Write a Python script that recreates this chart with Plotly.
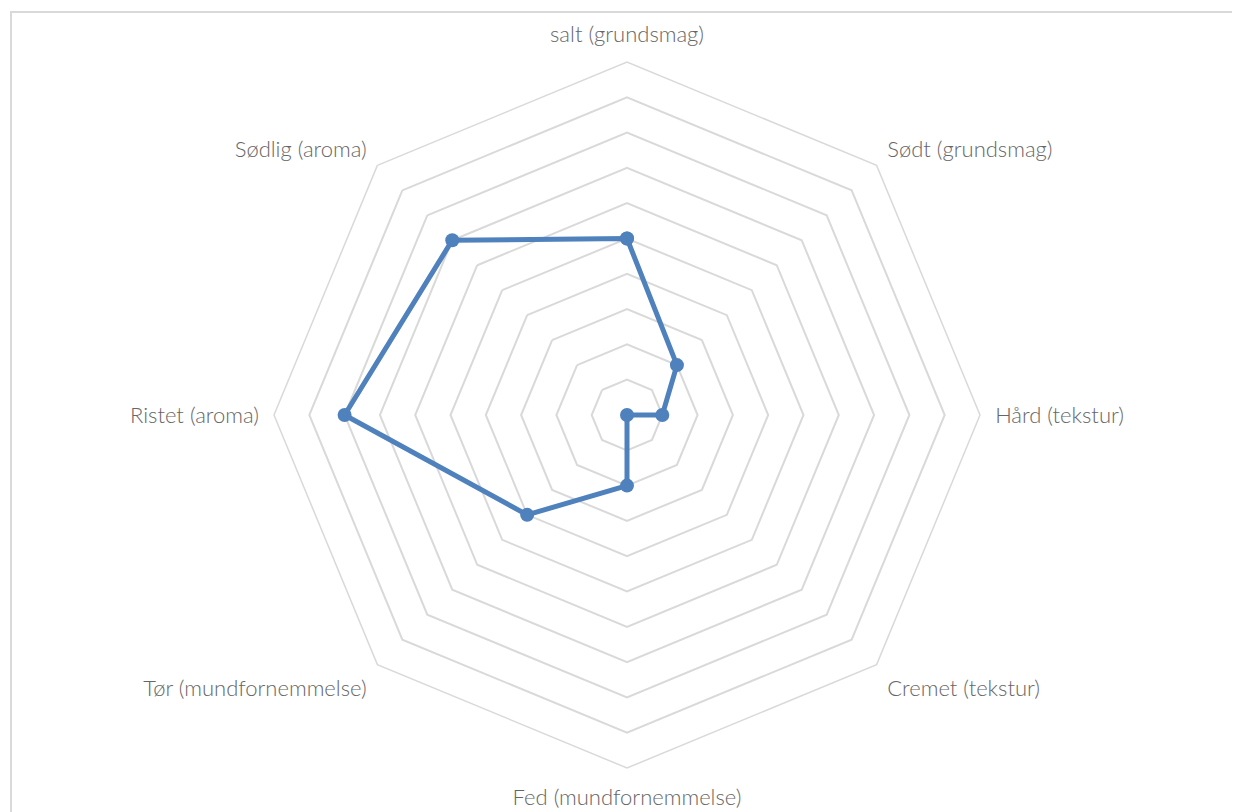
import plotly.graph_objects as go

categories = ["salt (grundsmag)", "Sødt (grundsmag)", "Hård (tekstur)", "Cremet (tekstur)",
              "Fed (mundfornemmelse)", "Tør (mundfornemmelse)", "Ristet (aroma)", "Sødlig (aroma)"]
values = [5, 2, 1, 0, 2, 4, 8, 7]

W, H = 1240, 812
OFF = 8  # page body margin
cx, cy, R = 627 - OFF, 415 - OFF, 353
dom = dict(x=[(cx - R) / W, (cx + R) / W], y=[1 - (cy + R) / H, 1 - (cy - R) / H])

fig = go.Figure()
# grid / label carrier (octagonal polar)
fig.add_trace(go.Scatterpolar(
    r=values, theta=categories, mode="lines",
    line=dict(color="rgba(0,0,0,0)", width=0),
    showlegend=False, hoverinfo="skip", subplot="polar",
))
# data series (drawn on an overlaid circular polar so the zero point keeps its marker)
fig.add_trace(go.Scatterpolar(
    r=values + values[:1],
    theta=categories + categories[:1],
    mode="lines+markers",
    line=dict(color="#4F81BD", width=5),
    marker=dict(color="#4F81BD", size=14),
    cliponaxis=False,
    showlegend=False,
    hoverinfo="skip",
    subplot="polar2",
))

fig.update_layout(
    width=W, height=H,
    margin=dict(l=0, r=0, t=0, b=0),
    paper_bgcolor="white",
    plot_bgcolor="white",
    font=dict(family="Lato", size=22, color="#666666", weight=300),
    polar=dict(
        domain=dom,
        gridshape="linear",
        bgcolor="white",
        radialaxis=dict(range=[0, 10], tickvals=list(range(1, 11)), showticklabels=False, ticks="",
                        showline=False, gridcolor="#d9d9d9", gridwidth=1.5),
        angularaxis=dict(rotation=90, direction="clockwise", showgrid=False,
                         categoryorder="array", categoryarray=categories,
                         showline=True, linecolor="#d9d9d9", linewidth=1.5,
                         ticks="outside", ticklen=10, tickcolor="rgba(0,0,0,0)",
                         tickfont=dict(family="Lato", size=22, color="#666666", weight=300)),
    ),
    polar2=dict(
        domain=dom,
        gridshape="circular",
        bgcolor="rgba(0,0,0,0)",
        radialaxis=dict(range=[0, 10], visible=False, showgrid=False),
        angularaxis=dict(rotation=90, direction="clockwise", showgrid=False,
                         categoryorder="array", categoryarray=categories,
                         showline=False, showticklabels=False, ticks=""),
    ),
    shapes=[dict(type="rect", xref="paper", yref="paper",
                 x0=(11 - OFF) / W, x1=1.05, y0=-0.05, y1=1 - (12 - OFF) / H,
                 line=dict(color="#d9d9d9", width=2), fillcolor="rgba(0,0,0,0)", layer="below")],
)

fig.write_html("out.html")
